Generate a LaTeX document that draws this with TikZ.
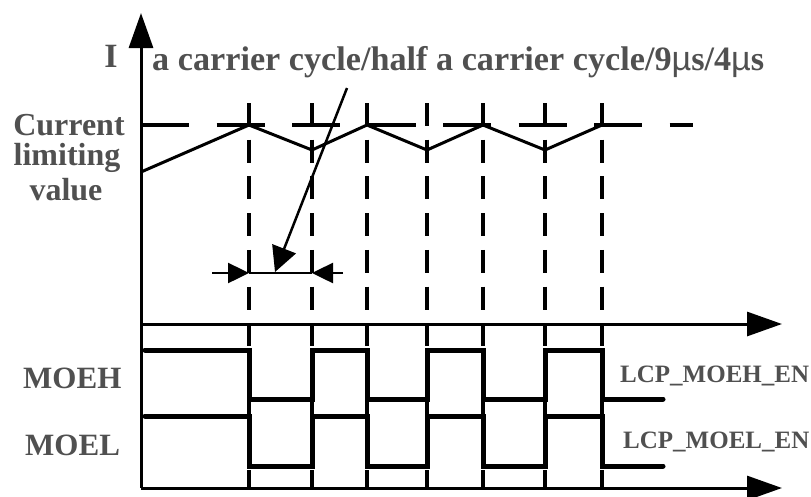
\documentclass[tikz,border=0pt]{standalone}
\usepackage{fontspec}
\setmainfont{Liberation Serif}
\newfontfamily\mufont{Liberation Sans}
\usetikzlibrary{arrows.meta}
\definecolor{txt}{RGB}{80,80,80}
\begin{document}
\begin{tikzpicture}[x=1pt,y=-1pt,
  lbl/.style={font=\bfseries, text=txt, inner sep=0pt},
  axis/.style={line width=3pt, -{Triangle[length=35pt,width=24pt]}},
  vguide/.style={line width=4pt, dash pattern=on 23pt off 13.7pt},
  hguide/.style={line width=4pt, dash pattern=on 48pt off 27.5pt},
  tri/.style={line width=3pt, line join=miter},
  wave/.style={line width=5pt, line cap=round, line join=miter},
  ann/.style={line width=2.5pt}
]
\useasboundingbox (0,0) rectangle (811,496);

% axes
\coordinate (O) at (141,488);
\coordinate (ytop) at (141,13);
\coordinate (mid0) at (141,324);
\coordinate (midend) at (782,324);
\coordinate (bend) at (782,488);
\draw[axis] (O) -- (ytop);
\draw[axis] (mid0) -- (midend);
\draw[axis] (O) -- (bend);

% horizontal current limit guide
\coordinate (h0) at (141,125);
\coordinate (h1) at (693,125);
\draw[hguide] (h0) -- (h1);

% vertical guides
\foreach \x in {249,312,367,427,483,545,602}
  \draw[vguide] (\x,103) -- (\x,488);

% triangle current wave
\draw[tri] (141,172) -- (249,125) -- (312,150) -- (367,125) -- (427,150)
  -- (483,125) -- (545,150) -- (602,125);

% MOEH and MOEL
\draw[wave] (145,350) -- (249,350) -- (249,399) -- (312,399) -- (312,350)
  -- (367,350) -- (367,399) -- (427,399) -- (427,350) -- (483,350)
  -- (483,399) -- (545,399) -- (545,350) -- (602,350) -- (602,399) -- (663,399);
\draw[wave] (145,416) -- (249,416) -- (249,466) -- (312,466) -- (312,416)
  -- (367,416) -- (367,466) -- (427,466) -- (427,416) -- (483,416)
  -- (483,466) -- (545,466) -- (545,416) -- (602,416) -- (602,466) -- (663,466);

% annotation arrow
\coordinate (annS) at (347,88);
\coordinate (annT) at (275,272);
\draw[ann, -{Triangle[length=25pt,width=25pt]}] (annS) -- (annT);

% dimension
\coordinate (d1) at (212,273);
\coordinate (d2) at (249,273);
\coordinate (d3) at (312,273);
\coordinate (d4) at (343,273);
\draw[ann] (d2) -- (d3);
\draw[ann, -{Triangle[length=21pt,width=20pt]}] (d1) -- (d2);
\draw[ann, -{Triangle[length=21pt,width=20pt]}] (d4) -- (d3);

% labels
\node[lbl, font=\bfseries\fontsize{34}{40}\selectfont, anchor=base] (ylabel) at (111,67) {I};
\node[lbl, font=\bfseries\fontsize{34.2}{40}\selectfont, anchor=base west] (cyclelabel) at (152,70)
  {a carrier cycle/half a carrier cycle/9{\mufont\mdseries µ}s/4{\mufont\mdseries µ}s};
\node[lbl, font=\bfseries\fontsize{32}{38}\selectfont, anchor=base] (cur1) at (69,135) {Current};
\node[lbl, font=\bfseries\fontsize{32}{38}\selectfont, anchor=base] (cur2) at (67,165) {limiting};
\node[lbl, font=\bfseries\fontsize{32}{38}\selectfont, anchor=base] (cur3) at (66,200) {value};
\node[lbl, font=\bfseries\fontsize{31}{36}\selectfont, anchor=base west] (moeh) at (23,388) {MOEH};
\node[lbl, font=\bfseries\fontsize{31}{36}\selectfont, anchor=base west] (moel) at (25,455) {MOEL};
\node[lbl, font=\bfseries\fontsize{25}{30}\selectfont, anchor=base west] (lcph) at (620,382) {LCP\_MOEH\_EN};
\node[lbl, font=\bfseries\fontsize{25}{30}\selectfont, anchor=base west] (lcpl) at (623,448) {LCP\_MOEL\_EN};
\end{tikzpicture}
\end{document}
